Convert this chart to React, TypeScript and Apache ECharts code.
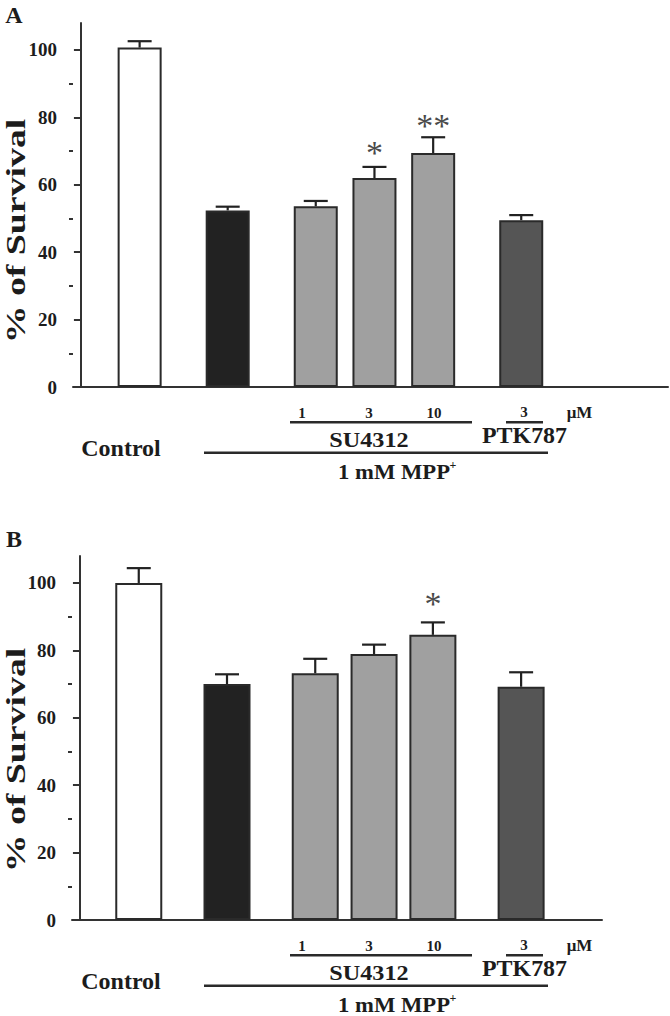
import React, { useEffect, useRef } from 'react';
import * as echarts from 'echarts';

// ---- data ----
const groups = ['Control', 'MPP+', 'SU4312 1', 'SU4312 3', 'SU4312 10', 'PTK787 3'];
const positions = [2, 5, 8, 10, 12, 15];
const barColors = ['#ffffff', '#222222', '#a0a0a0', '#a0a0a0', '#a0a0a0', '#555555'];
const meansA = [100.7, 52.4, 53.6, 62.0, 69.4, 49.5];
const errTopA = [102.6, 53.5, 55.2, 65.3, 74.1, 51.0];
const starsA = ['', '', '', '*', '**', ''];
const starYA = [0, 0, 0, 70.2, 78.3, 0];
const meansB = [100.0, 70.0, 73.2, 78.9, 84.6, 69.2];
const errTopB = [104.4, 72.9, 77.5, 81.7, 88.3, 73.5];
const starsB = ['', '', '', '', '*', ''];
const starYB = [0, 0, 0, 0, 94.4, 0];
const majorTicks = [0, 20, 40, 60, 80, 100];
const minorTicks = [10, 30, 50, 70, 90];
const suConc = ['1', '3', '10'];
const ptkConc = ['3'];
const yName = '% of Survival';

const FONT = 'Liberation Serif';
const INK = '#1c1c1c';

function panelAxes(gridIndex: number, xMax: number) {
  const xAxis = {
    type: 'value', gridIndex, min: -0.27, max: xMax,
    axisLine: { show: true, onZero: false, lineStyle: { color: '#333', width: 2 } },
    axisTick: { show: false }, axisLabel: { show: false }, splitLine: { show: false },
  };
  const yMajor = {
    type: 'value', gridIndex, min: 0, max: 108, position: 'left',
    axisLine: { show: true, onZero: true, lineStyle: { color: '#333', width: 2 } },
    axisTick: { show: true, customValues: majorTicks, length: 7, lineStyle: { color: '#333', width: 2 } },
    axisLabel: {
      show: true, customValues: majorTicks, margin: 16,
      fontFamily: FONT, fontWeight: 'bold', fontSize: 19, color: INK,
    },
    splitLine: { show: false },
  };
  const yMinor = {
    type: 'value', gridIndex, min: 0, max: 108, position: 'left',
    axisLine: { show: false, onZero: true },
    axisTick: { show: true, customValues: minorTicks, length: 4, lineStyle: { color: '#333', width: 2 } },
    axisLabel: { show: false },
    splitLine: { show: false },
  };
  return { xAxis, yAxes: [yMajor, yMinor] };
}

function panelSeries(idx: number, means: number[], tops: number[], stars: string[], starY: number[], barWidth: number) {
  const barData = positions.map((x, i) => ({
    name: groups[i],
    value: [x, means[i]],
    itemStyle: { color: barColors[i], borderColor: '#2a2a2a', borderWidth: 2 },
  }));
  const errData = positions.map((x, i) => [x, means[i], tops[i]]);
  const starData = positions
    .map((x, i) => [x, starY[i], i])
    .filter((d) => stars[d[2] as number]);
  return [
    {
      type: 'bar', xAxisIndex: idx, yAxisIndex: idx * 2, barWidth,
      data: barData, z: 2,
    },
    {
      type: 'custom', xAxisIndex: idx, yAxisIndex: idx * 2, z: 3,
      encode: { x: 0, y: [1, 2] },
      data: errData,
      renderItem: (params: any, api: any) => {
        const x = api.value(0), m = api.value(1), t = api.value(2);
        const p0 = api.coord([x, m]);
        const p1 = api.coord([x, t]);
        const st = { stroke: '#222', lineWidth: 2.2 };
        return {
          type: 'group',
          children: [
            { type: 'line', shape: { x1: p0[0], y1: p0[1], x2: p1[0], y2: p1[1] }, style: st },
            { type: 'line', shape: { x1: p1[0] - 12, y1: p1[1], x2: p1[0] + 12, y2: p1[1] }, style: st },
          ],
        };
      },
    },
    {
      type: 'custom', xAxisIndex: idx, yAxisIndex: idx * 2, z: 3,
      encode: { x: 0, y: 1 },
      data: starData,
      renderItem: (params: any, api: any) => {
        const x = api.value(0), y = api.value(1), i = api.value(2);
        const p = api.coord([x, y]);
        return {
          type: 'text', x: p[0], y: p[1] + 19,
          style: {
            text: stars[i], fontFamily: FONT, fontSize: 34, fill: '#4a4a4a',
            align: 'center', verticalAlign: 'bottom',
          },
        };
      },
    },
  ];
}

function txt(text: string, x: number, y: number, size: number, extra: any = {}) {
  return {
    type: 'text', x, y, scaleX: extra.scaleX ?? 1, rotation: extra.rotation ?? 0,
    style: {
      text, fontFamily: FONT, fontWeight: 'bold', fontSize: size, fill: INK,
      align: 'center', verticalAlign: 'middle',
    },
  };
}
function hline(x1: number, x2: number, y: number) {
  return { type: 'line', shape: { x1, y1: y, x2, y2: y }, style: { stroke: '#2a2a2a', lineWidth: 2.5 } };
}

function annotations(dy: number, letter: string, labelY: number) {
  const suX = [302, 369, 434];
  return [
    txt(letter, 14, (letter === 'A' ? 15 : 539), 24),
    txt(yName, 15.5, labelY, 27, { rotation: Math.PI / 2, scaleX: 1.4 }),
    ...suConc.map((s, i) => txt(s, suX[i], 413 + dy, 15)),
    hline(290, 472, 422.3 + dy),
    txt(ptkConc[0], 524, 412 + dy, 15),
    hline(506, 543, 422.3 + dy),
    txt('μM', 579.5, 412.5 + dy, 17),
    txt('SU4312', 369, 439 + dy, 22, { scaleX: 1.1 }),
    txt('PTK787', 524.5, 435 + dy, 23, { scaleX: 1.04 }),
    txt('Control', 121, 448 + dy, 24),
    hline(204, 548, 452.7 + dy),
    txt('1 mM MPP', 394, 471.7 + dy, 22, { scaleX: 1.03 }),
    txt('+', 453, 465 + dy, 12),
  ];
}

export default function App() {
  const ref = useRef<HTMLDivElement>(null);
  useEffect(() => {
    if (!ref.current) return;
    const chart = echarts.init(ref.current, null, { renderer: 'svg' });
    const a = panelAxes(0, 20.0);
    const b = panelAxes(1, 17.75);
    chart.setOption({
      animation: false,
      backgroundColor: '#ffffff',
      grid: [
        { left: 73, right: 2, top: 23, height: 364 },
        { left: 72, right: 68, top: 556, height: 364 },
      ],
      xAxis: [a.xAxis, b.xAxis],
      yAxis: [...a.yAxes, ...b.yAxes],
      series: [
        ...panelSeries(0, meansA, errTopA, starsA, starYA, 44),
        ...panelSeries(1, meansB, errTopB, starsB, starYB, 47),
      ],
      graphic: [...annotations(0, 'A', 231), ...annotations(533, 'B', 760)],
    });
    return () => chart.dispose();
  }, []);
  return (
    <div
      ref={ref}
      style={{ position: 'absolute', left: 0, top: 0, width: 670, height: 1016 }}
    />
  );
}
